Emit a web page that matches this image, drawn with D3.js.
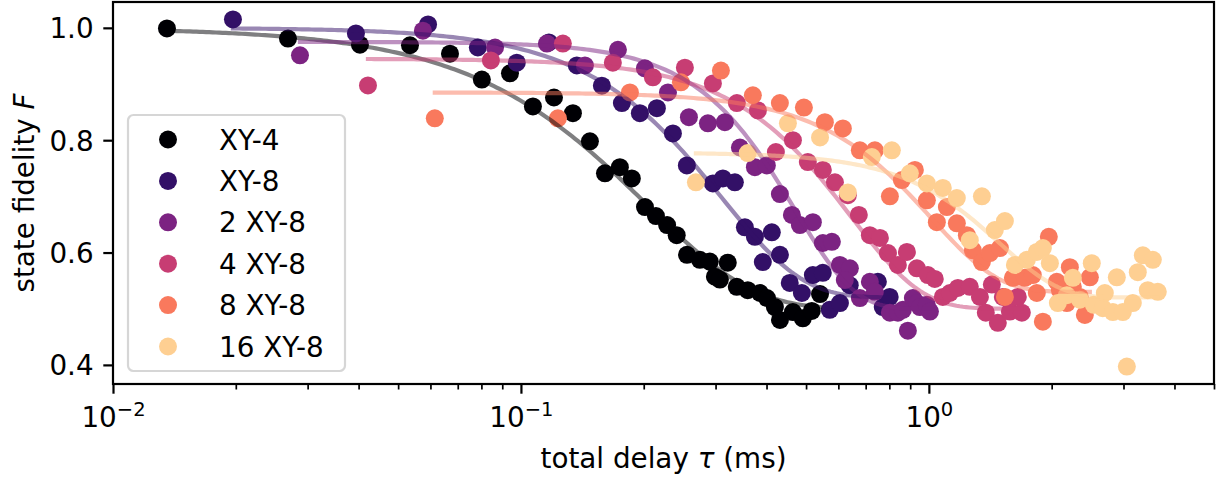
<!DOCTYPE html>
<html>
<head>
<meta charset="utf-8">
<script src="https://cdn.jsdelivr.net/npm/d3@7"></script>
<style>
  html, body { margin: 0; padding: 0; background: #fff; }
  svg { display: block; font-family: "DejaVu Sans", sans-serif; }
</style>
</head>
<body>
<svg id="chart" width="1217" height="478"></svg>
<script>
// ---------------- data ----------------
const seriesNames = ["XY-4", "XY-8", "2 XY-8", "4 XY-8", "8 XY-8", "16 XY-8"];

const tauXY4 = [0.01356,0.02685,0.0403,0.05346,0.067,0.0802,0.094,0.107,0.1205,0.1341,0.1476,0.1607,0.1748,0.187,0.2014,0.2143,0.2282,0.2409,0.2553,0.2746,0.2904,0.2989,0.3074,0.3214,0.3381,0.3597,0.3855,0.4009,0.4193,0.4315,0.4642,0.4909,0.5164,0.541];
const fidXY4 = [0.999,0.981,0.970,0.969,0.954,0.908,0.919,0.860,0.876,0.848,0.798,0.741,0.752,0.732,0.681,0.665,0.649,0.631,0.596,0.587,0.584,0.557,0.552,0.582,0.539,0.533,0.528,0.519,0.503,0.480,0.494,0.483,0.496,0.526];

const tauXY8 = [0.01968,0.0394,0.0592,0.0784,0.0977,0.1171,0.1371,0.1579,0.1768,0.1957,0.2154,0.2358,0.2551,0.2955,0.3126,0.3345,0.354,0.3746,0.4121,0.3917,0.4315,0.456,0.4883,0.5195,0.5495,0.5715,0.6053,0.6397,0.7499,0.7709,0.8017];
const fidXY8 = [1.015,0.990,1.006,0.965,0.938,0.974,0.933,0.897,0.866,0.848,0.857,0.812,0.755,0.723,0.732,0.725,0.645,0.628,0.636,0.583,0.596,0.546,0.528,0.560,0.564,0.498,0.510,0.542,0.548,0.503,0.521];

const tau2XY8 = [0.02873,0.0575,0.0864,0.1158,0.1435,0.1729,0.2013,0.2293,0.2581,0.2873,0.3162,0.3442,0.3746,0.4007,0.4313,0.4615,0.4829,0.5195,0.5497,0.5784,0.6051,0.6402,0.6223,0.6774,0.7167,0.7372,0.8025,0.8395,0.8635,0.8882,0.9138,0.9346,0.9506,0.9887,1.006];
const fid2XY8 = [0.951,0.995,0.965,0.972,0.933,0.961,0.928,0.885,0.841,0.830,0.832,0.787,0.752,0.755,0.704,0.667,0.649,0.654,0.617,0.619,0.578,0.572,0.551,0.519,0.548,0.530,0.493,0.493,0.498,0.461,0.519,0.510,0.503,0.507,0.495];

const tau4XY8 = [0.04217,0.0844,0.1267,0.168,0.2106,0.2523,0.2955,0.3383,0.381,0.4217,0.4642,0.505,0.5497,0.5884,0.633,0.6735,0.7167,0.7586,0.7937,0.8395,0.8834,0.9346,0.9943,1.034,1.082,1.126,1.178,1.26,1.334,1.379,1.427,1.476,1.518,1.58,1.652,1.69];
const fid4XY8 = [0.8975,0.942,0.972,0.938,0.912,0.929,0.901,0.866,0.853,0.779,0.800,0.761,0.747,0.725,0.702,0.667,0.631,0.626,0.599,0.578,0.601,0.572,0.560,0.553,0.521,0.528,0.537,0.539,0.521,0.493,0.543,0.475,0.521,0.495,0.521,0.493];

const tau8XY8 = [0.0615,0.1232,0.185,0.2467,0.3092,0.3703,0.4313,0.4939,0.556,0.6154,0.6774,0.7372,0.8025,0.8587,0.9241,0.9887,1.046,1.107,1.171,1.239,1.282,1.349,1.411,1.493,1.536,1.607,1.719,1.798,1.839,1.903,1.968,2.059,2.095,2.179,2.216,2.254,2.345,2.412,2.481];
const fid8XY8 = [0.839,0.839,0.885,0.903,0.924,0.880,0.866,0.858,0.832,0.821,0.782,0.782,0.700,0.729,0.747,0.693,0.654,0.681,0.652,0.631,0.604,0.583,0.599,0.608,0.521,0.555,0.555,0.560,0.528,0.477,0.628,0.548,0.533,0.510,0.574,0.539,0.521,0.489,0.556];

const tau16XY8 = [0.2685,0.3597,0.4513,0.541,0.633,0.7248,0.8114,0.8983,0.9887,1.082,1.171,1.349,1.26,1.451,1.536,1.625,1.739,1.839,1.903,1.98,2.071,2.179,2.254,2.345,2.508,2.537,2.67,2.7,2.825,2.889,2.989,3.057,3.162,3.252,3.345,3.441,3.54,3.641];
const fid16XY8 = [0.725,0.777,0.830,0.805,0.707,0.770,0.782,0.741,0.723,0.715,0.697,0.700,0.622,0.640,0.656,0.578,0.587,0.601,0.608,0.581,0.510,0.524,0.555,0.516,0.581,0.507,0.501,0.528,0.494,0.556,0.494,0.397,0.510,0.565,0.595,0.533,0.587,0.530];

// stretched-exponential fit parameters: F = offset + amp * exp(-(tau/T)^n)
const fitOffset = [0.50, 0.52, 0.50, 0.50, 0.53, 0.52];
const fitAmp    = [0.50, 0.48, 0.475, 0.445, 0.355, 0.258];
const fitT      = [0.2045, 0.3115, 0.471, 0.645, 1.016, 1.50];
const fitN      = [1.68, 2.2, 3.0, 2.5, 2.65, 3.0];

const xTickValues = [0.01, 0.1, 1];
const yTickValues = [0.4, 0.6, 0.8, 1.0];
const xLabel = "total delay";
const yLabel = "state fidelity";

// ---------------- build ----------------
const taus = [tauXY4, tauXY8, tau2XY8, tau4XY8, tau8XY8, tau16XY8];
const fids = [fidXY4, fidXY8, fid2XY8, fid4XY8, fid8XY8, fid16XY8];
const series = seriesNames.map((name, i) => ({
  name, i,
  pts: taus[i].map((t, j) => ({ t, f: fids[i][j] })),
  color: d3.interpolateMagma(i * 0.18)
}));

const L = 113, R = 1214, T = 2, B = 384;
const FS = 27.8;
const svg = d3.select("#chart");

const x = d3.scaleLog().domain([0.01, 5]).range([L, R]);
const y = d3.scaleLinear().domain([0.366, 1.046]).range([B, T]);

// clip
svg.append("defs").append("clipPath").attr("id", "clip")
  .append("rect").attr("x", L).attr("y", T).attr("width", R - L).attr("height", B - T);

const plot = svg.append("g").attr("clip-path", "url(#clip)");

// points (zorder 1 in matplotlib)
series.forEach(s => {
  plot.append("g").selectAll("circle").data(s.pts).join("circle")
    .attr("cx", d => x(d.t)).attr("cy", d => y(d.f)).attr("r", 9)
    .attr("fill", s.color);
});

// fit lines (zorder 2 -> above all points)
const line = d3.line().x(d => x(d.t)).y(d => y(d.f));
series.forEach(s => {
  const i = s.i;
  const [t0, t1] = d3.extent(taus[i]);
  const fitPts = d3.range(0, 201).map(k => {
    const t = Math.exp(Math.log(t0) + (Math.log(t1) - Math.log(t0)) * k / 200);
    return { t, f: fitOffset[i] + fitAmp[i] * Math.exp(-Math.pow(t / fitT[i], fitN[i])) };
  });
  plot.append("path").datum(fitPts).attr("d", line)
    .attr("fill", "none").attr("stroke", s.color).attr("stroke-opacity", 0.5)
    .attr("stroke-width", 4.2).attr("stroke-linecap", "square");
});

// axes
const minorX = [];
[0.01, 0.1, 1].forEach(dec => { for (let m = 2; m <= 9; m++) { const v = dec * m; if (v <= 5) minorX.push(v); } });

const xMinor = svg.append("g").attr("transform", `translate(0,${B})`)
  .call(d3.axisBottom(x).tickValues(minorX).tickSize(5.5).tickSizeOuter(0).tickFormat(""));
xMinor.select(".domain").remove();
xMinor.selectAll("line").attr("stroke", "#000").attr("stroke-width", 1.7);

const xAxis = svg.append("g").attr("transform", `translate(0,${B})`)
  .call(d3.axisBottom(x).tickValues(xTickValues).tickSize(9.7).tickSizeOuter(0).tickPadding(9.7).tickFormat(""));
xAxis.select(".domain").remove();
xAxis.selectAll("line").attr("stroke", "#000").attr("stroke-width", 2.2);
xAxis.selectAll(".tick text").attr("dy", null).attr("y", 43).attr("font-size", FS)
  .attr("font-family", "DejaVu Sans").attr("fill", "#000")
  .each(function(d) {
    const e = Math.round(Math.log10(d));
    const t = d3.select(this);
    t.append("tspan").text("10");
    t.append("tspan").attr("dy", -11).attr("font-size", 19.5).text(e < 0 ? "\u2212" + (-e) : String(e));
  });

const yAxis = svg.append("g").attr("transform", `translate(${L},0)`)
  .call(d3.axisLeft(y).tickValues(yTickValues).tickSize(9.7).tickSizeOuter(0).tickPadding(9.7).tickFormat(d3.format(".1f")));
yAxis.select(".domain").remove();
yAxis.selectAll("line").attr("stroke", "#000").attr("stroke-width", 2.2);
yAxis.selectAll("text").attr("font-size", FS).attr("font-family", "DejaVu Sans").attr("fill", "#000")
  .attr("dy", "0.36em");

// frame
svg.append("rect").attr("x", L).attr("y", T).attr("width", R - L).attr("height", B - T)
  .attr("fill", "none").attr("stroke", "#000").attr("stroke-width", 2.2);

// axis labels
const xl = svg.append("text").attr("x", (L + R) / 2).attr("y", 468).attr("text-anchor", "middle")
  .attr("font-size", FS).attr("fill", "#000");
xl.append("tspan").text(xLabel + " ");
xl.append("tspan").attr("font-style", "italic").text("\u03c4");
xl.append("tspan").text(" (ms)");

const yl = svg.append("text").attr("transform", `translate(34,${(T + B) / 2}) rotate(-90)`)
  .attr("text-anchor", "middle").attr("font-size", FS).attr("fill", "#000");
yl.append("tspan").text(yLabel + " ");
yl.append("tspan").attr("font-style", "italic").text("F");

// legend
const lg = svg.append("g");
lg.append("rect").attr("x", 128).attr("y", 115).attr("width", 217).attr("height", 256)
  .attr("rx", 5.5).attr("ry", 5.5).attr("fill", "#fff").attr("fill-opacity", 0.8)
  .attr("stroke", "#d6d6d6").attr("stroke-width", 2.2);
series.forEach((s, k) => {
  const cy = 139.5 + k * 41.4;
  lg.append("circle").attr("cx", 168).attr("cy", cy).attr("r", 9).attr("fill", s.color);
  lg.append("text").attr("x", 219).attr("y", cy).attr("dy", "0.36em").attr("font-size", FS)
    .attr("fill", "#000").text(s.name);
});
</script>
</body>
</html>
